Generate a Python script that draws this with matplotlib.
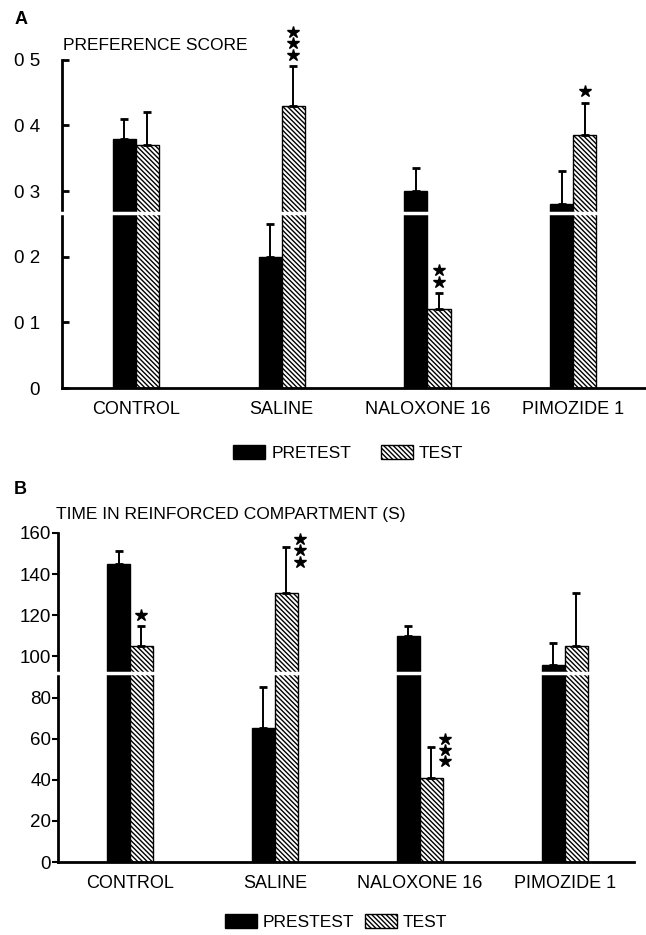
import matplotlib
matplotlib.use('Agg')
import matplotlib.pyplot as plt
from matplotlib.patches import Patch
import numpy as np

plt.rcParams['font.family'] = ['Liberation Sans', 'DejaVu Sans']
plt.rcParams['hatch.linewidth'] = 1.0

HATCH = '\\' * 7

groups = ['CONTROL', 'SALINE', 'NALOXONE 16', 'PIMOZIDE 1']

# panel A - preference score
pre_a = [0.38, 0.20, 0.30, 0.28]
pre_a_err = [0.03, 0.05, 0.035, 0.05]
test_a = [0.37, 0.43, 0.12, 0.385]
test_a_err = [0.05, 0.06, 0.025, 0.05]
stars_a = [0, 3, 2, 1]
yticks_a = [0, 0.1, 0.2, 0.3, 0.4, 0.5]
ylabels_a = ['0', '0 1', '0 2', '0 3', '0 4', '0 5']

# panel B - time in reinforced compartment
pre_b = [145, 65, 110, 96]
pre_b_err = [6, 20, 5, 10.5]
test_b = [105, 131, 41, 105]
test_b_err = [10, 22, 15, 26]
stars_b = [1, 3, 3, 0]
yticks_b = [0, 20, 40, 60, 80, 100, 120, 140, 160]

W = 0.158
x = np.arange(len(groups))


def draw_panel(ax, pre, pre_err, test, test_err, ymax, brk):
    ax.bar(x - W / 2, pre, W, color='black', edgecolor='black', zorder=2)
    ax.bar(x + W / 2, test, W, color='white', edgecolor='black',
           hatch=HATCH, linewidth=1.0, zorder=2)
    for xs, v, e in [(x - W / 2, pre, pre_err), (x + W / 2, test, test_err)]:
        ax.errorbar(xs, v, yerr=[np.zeros(len(v)), e], fmt='none',
                    ecolor='black', elinewidth=1.4, capsize=3, capthick=2,
                    zorder=3)
    # axis break
    ax.axhline(brk, xmin=-0.01, xmax=1, color='white', lw=2.5, zorder=4,
               clip_on=False)
    ax.set_ylim(0, ymax)
    ax.set_xticks(x)
    ax.set_xticklabels(groups, fontsize=13)
    ax.tick_params(axis='x', length=0, pad=9)
    for s in ['top', 'right']:
        ax.spines[s].set_visible(False)
    for s in ['left', 'bottom']:
        ax.spines[s].set_linewidth(2)


fig = plt.figure(figsize=(6.46, 9.35), dpi=100)

# ---- A ----
axA = fig.add_axes([0.096, 0.585, 0.902, 0.351])
draw_panel(axA, pre_a, pre_a_err, test_a, test_a_err, 0.5, 0.267)
axA.set_xlim(-0.507, 3.49)
axA.set_yticks(yticks_a)
axA.set_yticklabels(ylabels_a, fontsize=13.5)
axA.tick_params(axis='y', direction='in', length=5, width=2, pad=16)
for i, n in enumerate(stars_a):
    top = test_a[i] + test_a_err[i]
    ys = [top + 0.017 + k * 0.018 for k in range(n)]
    axA.plot([x[i] + W / 2] * n, ys, ls='none', marker='*', ms=9,
             color='black', clip_on=False, zorder=5)

fig.text(0.022, 1 - 20 / 935, 'A', fontsize=13, weight='bold', va='center')
fig.text(63 / 646, 1 - 46 / 935, 'PREFERENCE SCORE', fontsize=12.5,
         va='center')
fig.legend(handles=[Patch(facecolor='black', edgecolor='black'),
                    Patch(facecolor='white', edgecolor='black', hatch=HATCH)],
           labels=['PRETEST', 'TEST'], loc='center',
           bbox_to_anchor=(0.539, 1 - 453 / 935), ncol=2, frameon=False,
           fontsize=12.5, handlelength=1.85, handleheight=0.9,
           handletextpad=0.35, columnspacing=1.7)

# ---- B ----
axB = fig.add_axes([0.0898, 0.078, 0.892, 0.352])
draw_panel(axB, pre_b, pre_b_err, test_b, test_b_err, 160, 92)
axB.set_xlim(-0.497, 3.48)
axB.set_yticks(yticks_b)
axB.set_yticklabels([str(v) for v in yticks_b], fontsize=13.5)
axB.tick_params(axis='y', direction='out', length=4, width=1.5, pad=1)
for i, n in enumerate(stars_b):
    top = test_b[i] + test_b_err[i]
    if n == 1:
        xs = [x[i] + W / 2] * n
        ys = [top + 5]
    else:
        xs = [x[i] + W / 2 + 0.095] * n
        ys = [top + 4 - k * 5.5 for k in range(n)]
    axB.plot(xs, ys, ls='none', marker='*', ms=9, color='black',
             clip_on=False, zorder=5)

fig.text(0.022, 1 - 490 / 935, 'B', fontsize=13, weight='bold', va='center')
fig.text(56 / 646, 1 - 515 / 935, 'TIME IN REINFORCED COMPARTMENT (S)',
         fontsize=12.5, va='center')
fig.legend(handles=[Patch(facecolor='black', edgecolor='black'),
                    Patch(facecolor='white', edgecolor='black', hatch=HATCH)],
           labels=['PRESTEST', 'TEST'], loc='center',
           bbox_to_anchor=(0.52, 1 - 922 / 935), ncol=2, frameon=False,
           fontsize=12.5, handlelength=1.85, handleheight=0.9,
           handletextpad=0.35, columnspacing=0.6)

fig.savefig('out.png', dpi=100)
